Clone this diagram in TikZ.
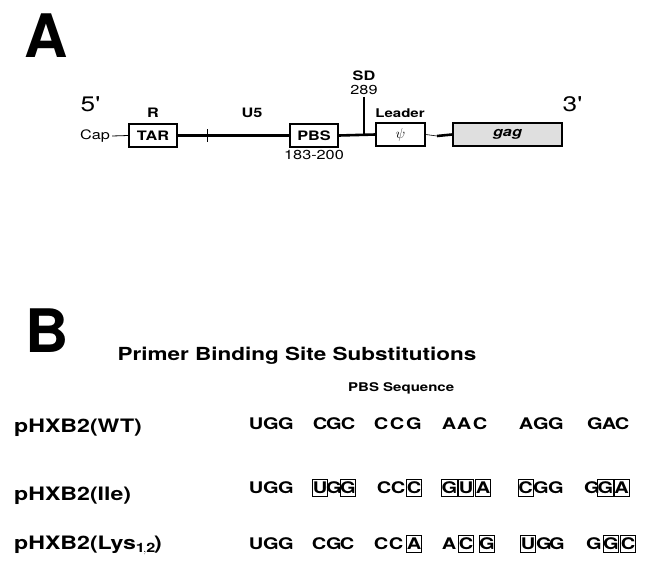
\documentclass[tikz,border=0pt]{standalone}
\usepackage{fontspec}
\setmainfont{TeX Gyre Heros}[FakeStretch=1.25]
\newfontfamily\panelfont{TeX Gyre Heros}
\usetikzlibrary{positioning}

\newcommand{\fsz}[1]{\fontsize{#1}{#1}\selectfont}

\begin{document}
\begin{tikzpicture}[x=1pt, y=-1pt,
    every node/.style={inner sep=0pt},
    panel/.style={font=\panelfont\fsz{60}\bfseries},
    region/.style={draw, line width=1.6pt, minimum height=23pt, font=\fsz{13}\bfseries},
    genome/.style={line width=2.6pt},
    lbl/.style={font=\fsz{13}\bfseries},
    num/.style={font=\fsz{13}},
    prime/.style={font=\fsz{21}},
    rowlbl/.style={font=\fsz{18.5}\bfseries, anchor=base west},
    nt/.style={font=\fsz{16}\bfseries, minimum width=15pt, minimum height=17pt},
    mut/.style={nt, draw, line width=0.8pt}]
  \useasboundingbox (0,0) rectangle (647,563);

  % Panel A: 5' end of the genome
  \node[panel] (pA) at (46,36) {A};
  \node[prime] (five) at (90,104) {5\textquotesingle};
  \node[prime] (three) at (572,104) {3\textquotesingle};
  \node[num, inner sep=2pt] (cap) at (95,136) {Cap};

  \node[region, minimum width=48pt] (tar) at (153,135.5) {TAR};
  \node[region, minimum width=48pt] (pbs) at (314,135.5) {PBS};
  \node[region, minimum width=49pt, font=\fsz{14}] (psi) at (400.5,134.5) {$\psi$};
  \node[region, minimum width=109pt, fill=gray!25] (gag) at (507.5,134.5) {\itshape gag};

  \node[lbl] (r) at (153,113) {R};
  \node[lbl] (u5) at (252,113) {U5};
  \node[lbl, font=\fsz{12}\bfseries] (leader) at (400,113) {Leader};
  \node[num] (pbspos) at (314,155) {183-200};
  \node[lbl] (sd) at (364,76) {SD};
  \node[num] (sdpos) at (364,90) {289};

  \coordinate (tick) at (207,136);
  \coordinate (sdpt) at (364,136);
  \coordinate (lk) at (437,136);

  \draw[line width=0.8pt] (cap.east) -- (tar.west);
  \draw[genome] (tar.east) -- (pbs.west);
  \draw[genome] (pbs.east) -- (psi.west);
  \draw[line width=0.6pt] (psi.east) -- (lk);
  \draw[genome] (lk) -- (gag.west);
  \draw[line width=1pt] (tick) ++(0,-7) -- ++(0,13);
  \draw[line width=1.2pt, shorten <=2pt] (sdpos.south) -- (sdpt);

  % Panel B: PBS substitutions
  \node[panel] (pB) at (47,331) {B};
  \node[font=\fsz{18}\bfseries] (title) at (297,356) {Primer Binding Site Substitutions};
  \node[font=\fsz{12}\bfseries, anchor=west] (seqhead) at (348,388) {PBS Sequence};

  \node[rowlbl] (wt) at (14,432) {pHXB2(WT)};
  \node[rowlbl] (ile) at (14,500) {pHXB2(Ile)};
  \node[rowlbl] (lys) at (14,549) {pHXB2(Lys$_{\mathbf{1,2}}$)};

  % wild type
  \foreach \x/\l/\s [count=\i] in {256/U/nt, 271/G/nt, 286/G/nt,
      320/C/nt, 334/G/nt, 348/C/nt, 381/C/nt, 397/C/nt, 414/G/nt,
      449/A/nt, 464/A/nt, 480/C/nt, 526/A/nt, 541/G/nt, 556/G/nt,
      595/G/nt, 609/A/nt, 622/C/nt}
    \node[\s] (wt-\i) at (\x,424) {\l};

  % Ile
  \foreach \x/\l/\s [count=\i] in {256/U/nt, 271/G/nt, 286/G/nt,
      320/U/mut, 334/G/nt, 348/G/mut, 384/C/nt, 398/C/nt, 414/C/mut,
      449.5/G/mut, 466/U/mut, 483/A/mut, 525.5/C/mut, 541/G/nt, 556/G/nt,
      592/G/nt, 605.5/G/mut, 621.5/A/mut}
    \node[\s] (ile-\i) at (\x,488) {\l};

  % Lys 1,2
  \foreach \x/\l/\s [count=\i] in {256/U/nt, 271/G/nt, 286/G/nt,
      319/C/nt, 334/G/nt, 347/C/nt, 381/C/nt, 396/C/nt, 414/A/mut,
      449/A/nt, 466/C/mut, 487/G/mut, 528/U/mut, 544/G/nt, 557/G/nt,
      594/G/nt, 611/G/mut, 628/C/mut}
    \node[\s] (lys-\i) at (\x,544) {\l};
\end{tikzpicture}
\end{document}
